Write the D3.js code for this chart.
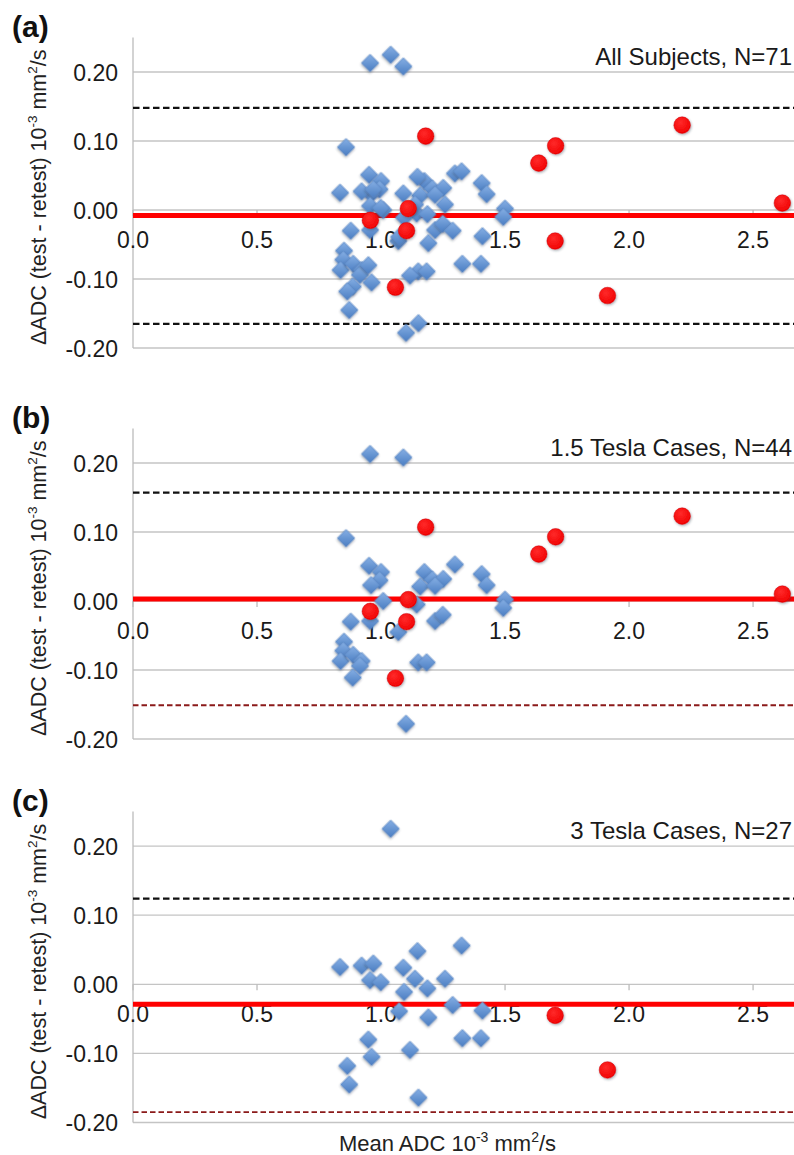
<!DOCTYPE html>
<html><head><meta charset="utf-8">
<script src="https://cdn.jsdelivr.net/npm/d3@7"></script>
<style>
body{margin:0;background:#fff}
svg{display:block}
text{font-family:"Liberation Sans",Arial,Helvetica,sans-serif}
</style>
</head><body>
<svg id="chart" width="794" height="1155"></svg>
<script>
// ---------- data ----------
const xTicks = [0, 0.5, 1.0, 1.5, 2.0, 2.5];
const yTicks = [-0.2, -0.1, 0, 0.1, 0.2];
const panelLetters = ["(a)", "(b)", "(c)"];
const panelTitles = ["All Subjects, N=71", "1.5 Tesla Cases, N=44", "3 Tesla Cases, N=27"];
const meanDiff = [-0.008, 0.003, -0.029];
const upperLoA = [0.148, 0.157, 0.124];
const lowerLoA = [-0.165, -0.151, -0.185];

// 1.5 T cases: [mean ADC, delta ADC]
const tesla15Diamonds = [
  [0.956,0.213],[1.090,0.208],[0.859,0.091],[0.952,0.051],[1.000,0.042],[0.994,0.030],
  [0.960,0.023],[1.298,0.053],[1.175,0.042],[1.207,0.031],[1.251,0.032],[1.158,0.021],
  [1.218,0.022],[1.406,0.039],[1.426,0.023],[1.009,0.000],[1.500,0.002],[1.493,-0.010],
  [1.144,-0.005],[0.956,-0.029],[1.070,-0.045],[0.878,-0.030],[1.218,-0.029],[1.249,-0.020],
  [0.851,-0.059],[0.848,-0.072],[0.837,-0.087],[0.888,-0.078],[0.922,-0.087],[0.915,-0.094],
  [0.886,-0.111],[1.150,-0.089],[1.184,-0.089],[1.101,-0.178]
];
const tesla15Circles = [
  [0.957,-0.015],[1.058,-0.112],[1.103,-0.030],[1.110,0.002],[1.180,0.107],
  [1.636,0.068],[1.704,0.093],[2.214,0.123],[2.618,0.010]
];
// 3 T cases
const tesla3Diamonds = [
  [1.039,0.225],[0.835,0.025],[0.922,0.027],[0.969,0.030],[0.956,0.006],[0.999,0.003],
  [1.090,0.024],[1.147,0.048],[1.137,0.008],[1.187,-0.006],[1.093,-0.011],[1.258,0.008],
  [1.325,0.056],[1.289,-0.030],[1.409,-0.038],[1.073,-0.039],[1.191,-0.048],[1.328,-0.078],
  [1.403,-0.078],[0.949,-0.080],[0.962,-0.105],[1.117,-0.095],[0.864,-0.118],[0.872,-0.145],
  [1.151,-0.164]
];
const tesla3Circles = [[1.702,-0.045],[1.913,-0.124]];

const panelDiamonds = [tesla15Diamonds.concat(tesla3Diamonds), tesla15Diamonds, tesla3Diamonds];
const panelCircles = [tesla15Circles.concat(tesla3Circles), tesla15Circles, tesla3Circles];

// ---------- layout ----------
const plotLeft = 133, plotRight = 794;
const panels = [{top:37.5,bottom:348},{top:428.5,bottom:739},{top:811.5,bottom:1122.5}];
const lowerColors = ["#111111", "#8b1a1a", "#8b1a1a"];

const svg = d3.select("#chart");
const defs = svg.append("defs");
const dg = defs.append("linearGradient").attr("id","dg").attr("x1","0").attr("y1","0").attr("x2","1").attr("y2","1");
dg.append("stop").attr("offset","0%").attr("stop-color","#86afe4");
dg.append("stop").attr("offset","100%").attr("stop-color","#4a7dc2");
const rg = defs.append("radialGradient").attr("id","rg").attr("cx","0.4").attr("cy","0.35").attr("r","0.7");
rg.append("stop").attr("offset","0%").attr("stop-color","#ff2a2a");
rg.append("stop").attr("offset","100%").attr("stop-color","#f00000");
const f = defs.append("filter").attr("id","sh").attr("x","-50%").attr("y","-50%").attr("width","200%").attr("height","200%");
f.append("feDropShadow").attr("dx",0.8).attr("dy",1.2).attr("stdDeviation",0.9)
  .attr("flood-color","#203040").attr("flood-opacity",0.4);

const x = d3.scaleLinear().domain([0, 2.665]).range([plotLeft, plotRight]);
const diamond = d3.symbol().type(d3.symbolSquare).size(150);

panels.forEach((p, i) => {
  const y = d3.scaleLinear().domain([-0.2, 0.25]).range([p.bottom, p.top]);
  const g = svg.append("g");
  const y0 = y(0);

  // gridlines
  g.selectAll(".grid").data(yTicks).join("line")
    .attr("x1", plotLeft).attr("x2", plotRight)
    .attr("y1", d => y(d)).attr("y2", d => y(d))
    .attr("stroke", "#c4c4c4").attr("stroke-width", 1.3);
  // y axis line
  g.append("line").attr("x1", plotLeft).attr("x2", plotLeft)
    .attr("y1", y(0.25)).attr("y2", y(-0.2))
    .attr("stroke", "#bcbcbc").attr("stroke-width", 1.3);
  // x ticks at zero line
  g.selectAll(".xt").data(xTicks).join("line")
    .attr("x1", d => x(d)).attr("x2", d => x(d))
    .attr("y1", y0).attr("y2", y0 + 6)
    .attr("stroke", "#bcbcbc").attr("stroke-width", 1.3);
  // y tick labels
  g.selectAll(".yl").data(yTicks).join("text")
    .attr("x", 118).attr("y", d => y(d) + 8.8)
    .attr("text-anchor", "end").attr("font-size", 23).attr("fill", "#1a1a1a")
    .text(d => d.toFixed(2));
  // x tick labels
  g.selectAll(".xl").data(xTicks).join("text")
    .attr("x", d => x(d)).attr("y", y0 + 38)
    .attr("text-anchor", "middle").attr("font-size", 23).attr("fill", "#1a1a1a")
    .text(d => d.toFixed(1));

  // limits of agreement
  g.append("line").attr("x1", plotLeft).attr("x2", plotRight)
    .attr("y1", y(upperLoA[i])).attr("y2", y(upperLoA[i]))
    .attr("stroke", "#111").attr("stroke-width", 2.2).attr("stroke-dasharray", "6.5,3.5");
  g.append("line").attr("x1", plotLeft).attr("x2", plotRight)
    .attr("y1", y(lowerLoA[i])).attr("y2", y(lowerLoA[i]))
    .attr("stroke", lowerColors[i]).attr("stroke-width", i === 0 ? 2.2 : 1.9)
    .attr("stroke-dasharray", i === 0 ? "6.5,3.5" : "5.5,3");
  // mean difference
  g.append("line").attr("x1", plotLeft).attr("x2", plotRight)
    .attr("y1", y(meanDiff[i])).attr("y2", y(meanDiff[i]))
    .attr("stroke", "#ff0000").attr("stroke-width", 5);

  // markers
  g.selectAll(".dm").data(panelDiamonds[i]).join("path")
    .attr("d", diamond)
    .attr("transform", d => `translate(${x(d[0])},${y(d[1])}) rotate(45)`)
    .attr("fill", "url(#dg)").attr("stroke", "#5a86c4").attr("stroke-width", 0.6)
    .attr("filter", "url(#sh)");
  g.selectAll(".cc").data(panelCircles[i]).join("circle")
    .attr("cx", d => x(d[0])).attr("cy", d => y(d[1])).attr("r", 8.3)
    .attr("fill", "url(#rg)").attr("stroke", "#d00000").attr("stroke-width", 0.5)
    .attr("filter", "url(#sh)");

  // panel title
  g.append("text").attr("x", 792).attr("y", p.top + 27.5)
    .attr("text-anchor", "end").attr("font-size", 24).attr("fill", "#1a1a1a")
    .text(panelTitles[i]);
  // panel letter
  g.append("text").attr("x", 12).attr("y", p.top - 1)
    .attr("font-size", 30).attr("font-weight", "bold").attr("fill", "#111")
    .text(panelLetters[i]);

  // y axis title
  const cy = (p.top + p.bottom) / 2 + 4.5;
  const t = g.append("text")
    .attr("transform", `translate(46,${cy}) rotate(-90)`)
    .attr("text-anchor", "middle").attr("font-size", 21.5).attr("fill", "#222");
  t.append("tspan").text("\u0394ADC (test - retest) 10");
  t.append("tspan").attr("font-size", 13.5).attr("dy", -9).text("-3");
  t.append("tspan").attr("dy", 9).text(" mm");
  t.append("tspan").attr("font-size", 13.5).attr("dy", -9).text("2");
  t.append("tspan").attr("dy", 9).text("/s");
});

// x axis title
const xt = svg.append("text").attr("x", 447.5).attr("y", 1151)
  .attr("text-anchor", "middle").attr("font-size", 22).attr("fill", "#222");
xt.append("tspan").text("Mean ADC 10");
xt.append("tspan").attr("font-size", 14).attr("dy", -9).text("-3");
xt.append("tspan").attr("dy", 9).text(" mm");
xt.append("tspan").attr("font-size", 14).attr("dy", -9).text("2");
xt.append("tspan").attr("dy", 9).text("/s");
</script>
</body></html>
